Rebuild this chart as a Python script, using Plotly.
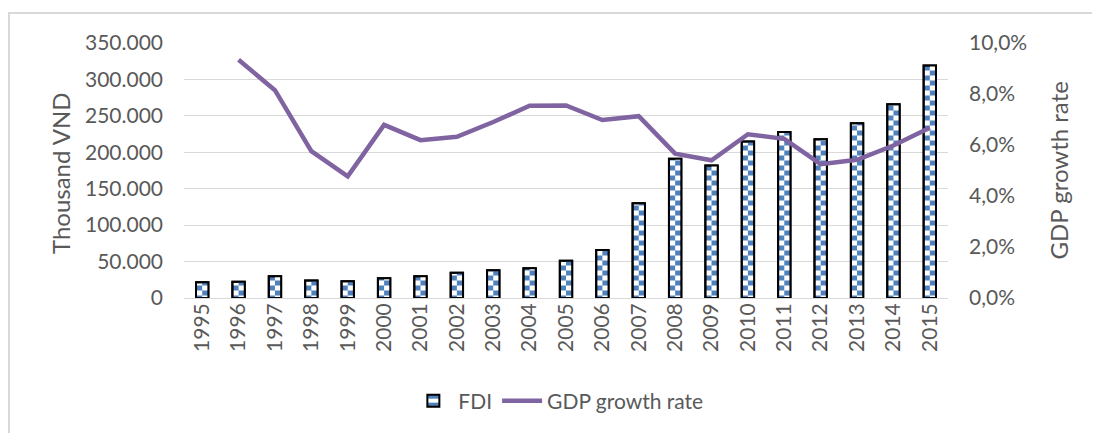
import plotly.graph_objects as go

years = [str(y) for y in range(1995, 2016)]
fdi = [21500, 22400, 30000, 24000, 23000, 27000, 30000, 34800, 38000, 41000,
       51000, 66000, 130000, 191000, 181700, 214700, 228000, 218000, 240000, 266000, 319000]
gdp_years = [str(y) for y in range(1996, 2016)]
gdp = [0.0934, 0.0815, 0.0576, 0.0477, 0.0679, 0.0619, 0.0632, 0.0690, 0.0754, 0.0755,
       0.0698, 0.0713, 0.0566, 0.0540, 0.0642, 0.0624, 0.0525, 0.0542, 0.0598, 0.0668]

BLUE = "#4F81BD"
PURPLE = "#8064A2"
GRAY = "#595959"
FONT = "Lato"

BW = 0.34
fig = go.Figure()

# full bar with pattern A and black outline (also legend entry)
fig.add_trace(go.Bar(
    x=years, y=fdi, name="FDI", width=BW, offset=-BW / 2,
    marker=dict(color="white",
                pattern=dict(shape="-", fgcolor=BLUE, bgcolor="white",
                             size=10, solidity=0.5, fgopacity=1),
                line=dict(color="black", width=2)),
    hoverinfo="skip"))
# right half with inverted pattern -> checkerboard
fig.add_trace(go.Bar(
    x=years, y=fdi, name="FDI", width=BW / 2, offset=0, showlegend=False,
    marker=dict(color=BLUE,
                pattern=dict(shape="-", fgcolor="white", bgcolor=BLUE,
                             size=10, solidity=0.5, fgopacity=1),
                line=dict(width=0)),
    hoverinfo="skip"))
# outline on top
fig.add_trace(go.Bar(
    x=years, y=fdi, name="FDI", width=BW, offset=-BW / 2, showlegend=False,
    marker=dict(color="rgba(0,0,0,0)", line=dict(color="black", width=2)),
    hoverinfo="skip"))

fig.add_trace(go.Scatter(
    x=gdp_years, y=gdp, name="GDP growth rate", mode="lines", yaxis="y2",
    line=dict(color=PURPLE, width=4.5)))

L, T, PW, PH = 176, 35, 764, 255
W, H = 1092, 425

fig.update_layout(
    width=W, height=H,
    paper_bgcolor="white", plot_bgcolor="white",
    margin=dict(l=L, r=W - L - PW, t=T, b=H - T - PH, autoexpand=False),
    separators=",.",
    barmode="overlay",
    font=dict(family=FONT, size=21, color=GRAY),
    xaxis=dict(type="category", tickangle=-90, showgrid=False, showline=False,
               ticks="", tickfont=dict(size=21, color=GRAY), ticklabelstandoff=0),
    yaxis=dict(range=[0, 350000], dtick=50000, tickformat=",d",
               showgrid=True, gridcolor="#D9D9D9", gridwidth=1,
               zeroline=True, zerolinecolor="#D9D9D9", zerolinewidth=1,
               showline=False, ticks="", ticklabelstandoff=20,
               tickfont=dict(size=21, color=GRAY)),
    yaxis2=dict(range=[0, 0.1], dtick=0.02, tickformat=".1%", overlaying="y",
                side="right", showgrid=False, zeroline=False, showline=False,
                ticks="", ticklabelstandoff=20, tickfont=dict(size=21, color=GRAY)),
    legend=dict(orientation="h", x=0.49, xanchor="center", y=-0.404, yanchor="middle",
                font=dict(size=21, color=GRAY), bgcolor="rgba(0,0,0,0)",
                itemwidth=40, tracegroupgap=0),
    showlegend=True,
    annotations=[
        dict(text="Thousand VND", xref="paper", yref="paper", x=(52 - L) / PW, y=0.49,
             xanchor="center", yanchor="middle", textangle=-90, showarrow=False,
             font=dict(size=24, color=GRAY, family=FONT)),
        dict(text="GDP growth rate", xref="paper", yref="paper", x=(1050 - L) / PW, y=0.5,
             xanchor="center", yanchor="middle", textangle=-90, showarrow=False,
             font=dict(size=24, color=GRAY, family=FONT)),
    ],
    shapes=[dict(type="rect", xref="paper", yref="paper",
                 x0=(1 - L) / PW, x1=1.4, y0=-0.7, y1=(PH + T - 5) / PH,
                 line=dict(color="#D9D9D9", width=2), fillcolor="rgba(0,0,0,0)",
                 layer="below")],
)

fig.write_html("out.html")
